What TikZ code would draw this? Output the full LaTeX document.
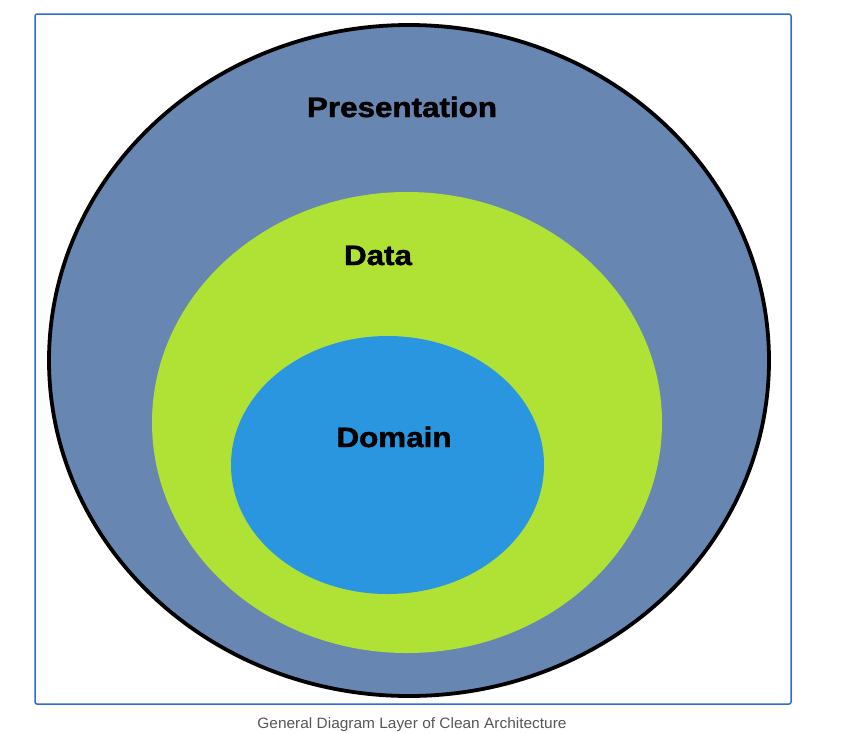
\documentclass[tikz,border=0pt]{standalone}
\usepackage{fontspec}
\setmainfont{Liberation Sans}
\newfontfamily\heavyfont{Liberation Sans Bold}[FakeBold=1.6]
\definecolor{frameblue}{HTML}{2F6AD8}
\definecolor{presblue}{HTML}{6786B1}
\definecolor{datagreen}{HTML}{B0E236}
\definecolor{domblue}{HTML}{2A96E0}
\definecolor{capgray}{HTML}{555555}
\begin{document}
\begin{tikzpicture}[x=1pt,y=-1pt,
  layerlabel/.style={font=\fontsize{28}{30}\heavyfont, text=black, anchor=base, inner sep=0pt},
  caption/.style={font=\fontsize{15}{17}\selectfont, text=capgray, anchor=base, inner sep=0pt}]
\useasboundingbox (0,0) rectangle (859,732);
\draw[frameblue, line width=1.5pt, rounded corners=2pt] (35,14) rectangle (791,704);
\fill[presblue] (409,360.5) ellipse [x radius=360, y radius=335.5];
\draw[black, line width=3.8pt] (409,360.5) ellipse [x radius=360, y radius=335.5];
\fill[datagreen] (407,422.5) ellipse [x radius=255, y radius=230.5];
\fill[domblue] (387.5,465) ellipse [x radius=156.5, y radius=129];
\node[layerlabel] (pres) at (402,117) {\scalebox{1.12}[1]{Presentation}};
\node[layerlabel] (data) at (378,265) {\scalebox{1.12}[1]{Data}};
\node[layerlabel] (dom) at (394,447) {\scalebox{1.12}[1]{Domain}};
\node[caption] (cap) at (412,728) {\scalebox{1.03}[1]{General Diagram Layer of Clean Architecture}};
\end{tikzpicture}
\end{document}
